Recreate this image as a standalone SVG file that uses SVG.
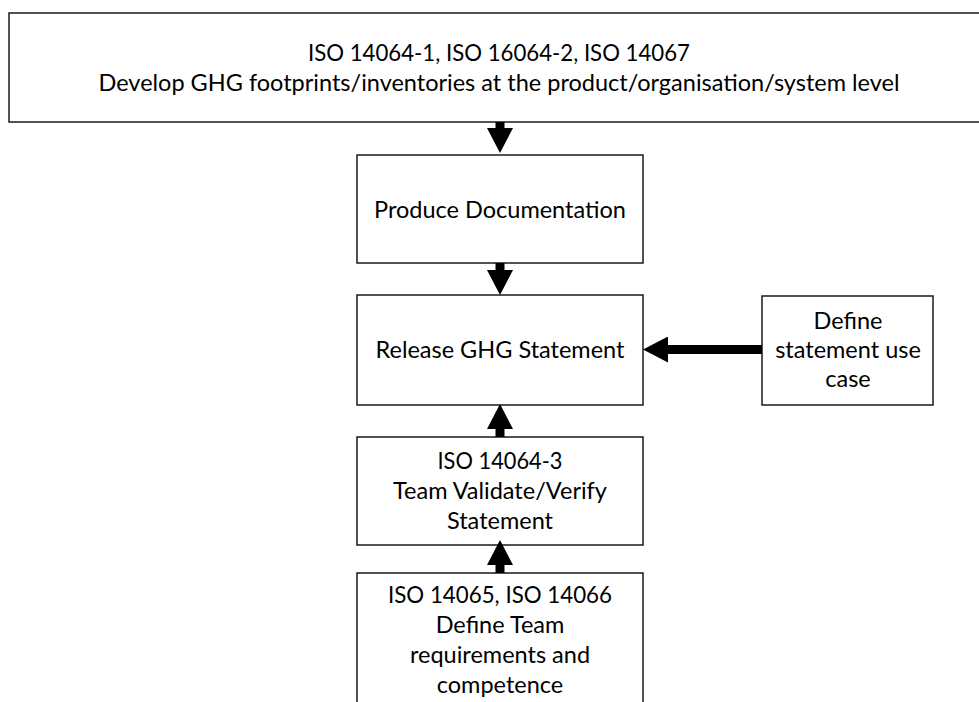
<svg xmlns="http://www.w3.org/2000/svg" width="979" height="702" viewBox="0 0 979 702">
  <style>
    .box { fill: #ffffff; stroke: #1a1a1a; stroke-width: 1.5; }
    .lbl { font-family: "Lato", "Liberation Sans", sans-serif; font-size: 23.5px; fill: #000000; text-anchor: middle; }
    .link { fill: none; stroke: #000000; stroke-width: 9; }
  </style>
  <defs>
    <marker id="head" markerUnits="userSpaceOnUse" markerWidth="25" markerHeight="26" refX="0" refY="13" orient="auto">
      <path d="M0,0 L25,13 L0,26 Z" fill="#000000"/>
    </marker>
  </defs>

  <rect width="979" height="702" fill="#ffffff"/>

  <!-- standards / footprint development -->
  <g id="node-footprints">
    <rect class="box" x="9" y="13" width="980" height="109"/>
    <text class="lbl" x="499" y="61" textLength="382" lengthAdjust="spacingAndGlyphs">ISO 14064-1, ISO 16064-2, ISO 14067</text>
    <text class="lbl" x="499" y="91">Develop GHG footprints/inventories at the product/organisation/system level</text>
  </g>

  <g id="node-documentation">
    <rect class="box" x="357" y="155" width="286" height="108"/>
    <text class="lbl" x="500" y="218">Produce Documentation</text>
  </g>

  <g id="node-release">
    <rect class="box" x="357" y="295" width="286" height="110"/>
    <text class="lbl" x="500" y="358">Release GHG Statement</text>
  </g>

  <g id="node-use-case">
    <rect class="box" x="762" y="296" width="171" height="109"/>
    <text class="lbl" x="848" y="329">Define</text>
    <text class="lbl" x="848" y="358">statement use</text>
    <text class="lbl" x="848" y="387">case</text>
  </g>

  <g id="node-verify">
    <rect class="box" x="357" y="437" width="286" height="108"/>
    <text class="lbl" x="500" y="469" textLength="125" lengthAdjust="spacingAndGlyphs">ISO 14064-3</text>
    <text class="lbl" x="500" y="499">Team Validate/Verify</text>
    <text class="lbl" x="500" y="529">Statement</text>
  </g>

  <g id="node-team">
    <rect class="box" x="357" y="573" width="286" height="140"/>
    <text class="lbl" x="500" y="603" textLength="224" lengthAdjust="spacingAndGlyphs">ISO 14065, ISO 14066</text>
    <text class="lbl" x="500" y="633">Define Team</text>
    <text class="lbl" x="500" y="663">requirements and</text>
    <text class="lbl" x="500" y="693">competence</text>
  </g>

  <!-- connectors: thick shaft ending in a solid triangular head -->
  <g id="connectors">
    <path class="link" d="M500,122 V128" marker-end="url(#head)"/>
    <path class="link" d="M500,263 V270" marker-end="url(#head)"/>
    <path class="link" d="M762,349.5 H668" marker-end="url(#head)"/>
    <path class="link" d="M500,437 V429" marker-end="url(#head)"/>
    <path class="link" d="M500,573 V565" marker-end="url(#head)"/>
  </g>
</svg>
